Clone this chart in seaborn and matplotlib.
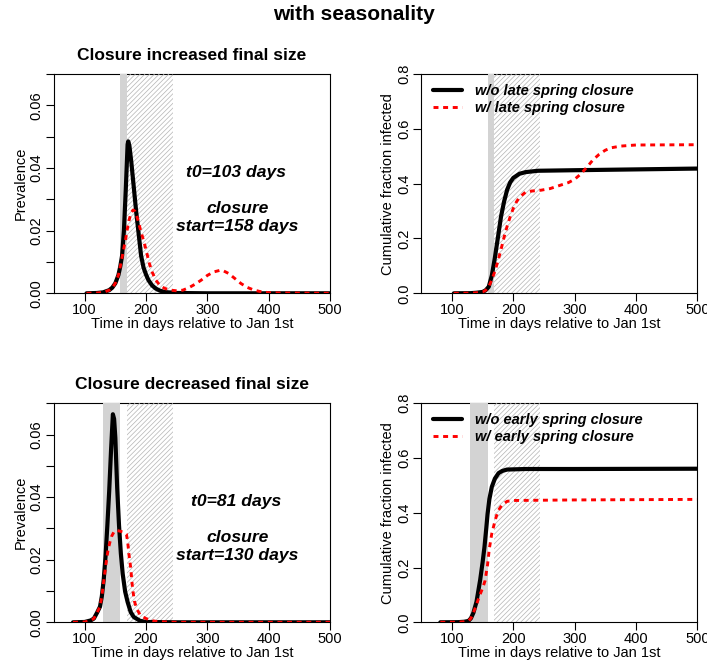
import matplotlib
matplotlib.use("Agg")
import matplotlib.pyplot as plt
import seaborn as sns
import numpy as np
import pandas as pd
from matplotlib.lines import Line2D
from matplotlib.ticker import MultipleLocator, FixedLocator

sns.set_style("white")
plt.rcParams['font.family'] = ['Liberation Sans', 'DejaVu Sans']
plt.rcParams['hatch.linewidth'] = 0.5
for k in ['text.color', 'axes.labelcolor', 'xtick.color', 'ytick.color', 'axes.edgecolor']:
    plt.rcParams[k] = 'black'

# ---------------- data ----------------
# Late spring closure scenario (t0 = 103, closure start = 158)
p1_days_black = [103, 120, 130, 140, 145, 150, 155, 158, 161, 164, 167, 170, 171, 173, 176, 180,
                 184, 188, 192, 196, 200, 204, 210, 216, 222, 230, 250, 300, 400, 500]
p1_black = [0, 0.0001, 0.0003, 0.001, 0.0018, 0.0032, 0.0058, 0.0085, 0.012, 0.020, 0.033, 0.0475,
            0.0485, 0.047, 0.042, 0.034, 0.026, 0.019, 0.012, 0.0082, 0.006, 0.0042, 0.0025, 0.0015,
            0.0009, 0.0004, 0.0001, 0, 0, 0]
p1_days_red = [103, 120, 130, 140, 145, 150, 155, 158, 161, 164, 167, 170, 173, 176, 179, 182, 186,
               190, 195, 200, 205, 210, 216, 222, 230, 240, 250, 260, 270, 280, 290, 300, 310, 320,
               325, 335, 345, 355, 365, 375, 385, 400, 420, 500]
p1_red = [0, 0.0001, 0.0003, 0.001, 0.0018, 0.0032, 0.0058, 0.0085, 0.0115, 0.0145, 0.0175, 0.021,
          0.0238, 0.0258, 0.0266, 0.0262, 0.024, 0.021, 0.0175, 0.014, 0.0098, 0.0068, 0.0042,
          0.0027, 0.0016, 0.001, 0.0008, 0.001, 0.0018, 0.0029, 0.0042, 0.0057, 0.0068, 0.0073,
          0.0073, 0.0063, 0.0047, 0.0031, 0.0019, 0.0011, 0.0006, 0.0002, 0.0001, 0]

c1_days_black = [103, 130, 140, 150, 155, 160, 165, 170, 175, 180, 185, 190, 195, 200, 210, 220,
                 240, 300, 400, 500]
c1_black = [0, 0.0005, 0.002, 0.005, 0.011, 0.024, 0.065, 0.13, 0.205, 0.28, 0.335, 0.378, 0.405,
            0.421, 0.436, 0.442, 0.447, 0.449, 0.452, 0.455]
c1_days_red = [103, 130, 140, 150, 155, 160, 165, 170, 175, 180, 185, 190, 195, 200, 205, 210, 220,
               230, 245, 260, 275, 290, 300, 310, 320, 330, 340, 350, 360, 375, 400, 500]
c1_red = [0, 0.0005, 0.002, 0.005, 0.011, 0.024, 0.05, 0.08, 0.118, 0.16, 0.205, 0.245, 0.28, 0.31,
          0.333, 0.35, 0.369, 0.373, 0.376, 0.382, 0.393, 0.404, 0.416, 0.435, 0.46, 0.487, 0.507,
          0.522, 0.531, 0.537, 0.541, 0.542]

# Early spring closure scenario (t0 = 81, closure start = 130)
p2_days_black = [81, 100, 110, 115, 120, 125, 128, 131, 134, 137, 140, 143, 146, 148, 150, 153, 156,
                 159, 162, 166, 170, 175, 180, 190, 200, 250, 500]
p2_black = [0, 0.0001, 0.0006, 0.0012, 0.003, 0.005, 0.0083, 0.0135, 0.021, 0.031, 0.042, 0.055,
            0.0665, 0.065, 0.059, 0.043, 0.031, 0.022, 0.0155, 0.0098, 0.0065, 0.0033, 0.0017,
            0.0005, 0.0001, 0, 0]
p2_days_red = [81, 100, 110, 115, 120, 125, 128, 131, 133, 135, 138, 141, 144, 148, 152, 156, 160,
               164, 168, 170, 172, 175, 178, 181, 185, 190, 195, 200, 210, 220, 250, 500]
p2_red = [0, 0.0001, 0.0006, 0.0012, 0.003, 0.005, 0.0083, 0.013, 0.016, 0.019, 0.023, 0.0255,
          0.0275, 0.029, 0.0294, 0.0292, 0.029, 0.0288, 0.0282, 0.026, 0.022, 0.0175, 0.011,
          0.0068, 0.0043, 0.0025, 0.0017, 0.0012, 0.0005, 0.0002, 0, 0]

c2_days_black = [81, 110, 120, 127, 131, 135, 140, 146, 150, 153, 156, 158, 161, 165, 170, 176, 182,
                 190, 220, 300, 500]
c2_black = [0, 0.0005, 0.002, 0.005, 0.015, 0.035, 0.075, 0.155, 0.22, 0.275, 0.345, 0.395, 0.45,
            0.495, 0.525, 0.545, 0.553, 0.558, 0.56, 0.56, 0.561]
c2_days_red = [81, 110, 120, 127, 131, 135, 140, 145, 150, 154, 158, 161, 165, 169, 172, 176, 182,
               190, 200, 300, 500]
c2_red = [0, 0.0005, 0.002, 0.005, 0.015, 0.035, 0.065, 0.097, 0.125, 0.152, 0.21, 0.27, 0.325,
          0.36, 0.385, 0.41, 0.43, 0.442, 0.445, 0.447, 0.449]

late_closure = (158, 169)
early_closure = (130, 158)
summer = (169, 244)

titles = ["Closure increased final size", "Closure decreased final size"]
t0_labels = ["t0=103 days", "t0=81 days"]
start_labels = ["start=158 days", "start=130 days"]
legend_labels = [["w/o late spring closure", "w/ late spring closure"],
                 ["w/o early spring closure", "w/ early spring closure"]]
x_ticks = [100, 200, 300, 400, 500]

# ---------------- figure ----------------
W, H = 707, 671
fig = plt.figure(figsize=(W / 100, H / 100), dpi=100)

def fax(x0, y0, x1, y1):
    return fig.add_axes([x0 / W, 1 - y1 / H, (x1 - x0) / W, (y1 - y0) / H])

axes = [[fax(54, 74, 330, 293.3), fax(421.3, 74, 697.3, 293.3)],
        [fax(54, 403.3, 330, 622.3), fax(421.3, 403.3, 697.3, 622.3)]]

black_kw = dict(color="black", linewidth=3.0, zorder=5)
red_kw = dict(color="red", linewidth=2.1, linestyle=(0, (1.7, 1.6)), zorder=6)
FS = 10.5

prev = [(p1_days_black, p1_black, p1_days_red, p1_red),
        (p2_days_black, p2_black, p2_days_red, p2_red)]
cums = [(c1_days_black, c1_black, c1_days_red, c1_red),
        (c2_days_black, c2_black, c2_days_red, c2_red)]
closures = [late_closure, early_closure]

def style_axes(ax, ylim, major, minor, fmt, ylabel):
    ax.set_xlim(50, 500)
    ax.set_ylim(*ylim)
    ax.xaxis.set_major_locator(FixedLocator(x_ticks))
    ax.yaxis.set_major_locator(MultipleLocator(major))
    if minor:
        ax.yaxis.set_minor_locator(MultipleLocator(minor))
    ax.yaxis.set_major_formatter(plt.FuncFormatter(lambda v, p: fmt.format(v)))
    for s in ax.spines.values():
        s.set_color("black")
        s.set_linewidth(0.8)
    ax.spines['bottom'].set_zorder(4)
    ax.tick_params(which="both", direction="out", length=5.8, width=0.8, color="black",
                   labelsize=FS, pad=1.0, bottom=True, left=True, top=False, right=False,
                   labelcolor="black")
    ax.tick_params(axis="y", which="both", pad=1.5)
    for lab in ax.get_yticklabels():
        lab.set_rotation(90)
        lab.set_va("center")
    ax.set_xlabel("Time in days relative to Jan 1st", fontsize=FS, labelpad=0.5, color="black")
    ax.set_ylabel(ylabel, fontsize=FS, labelpad=1.5, color="black")
    ax.grid(False)

for r in range(2):
    cs, ce = closures[r]
    for c in range(2):
        ax = axes[r][c]
        ax.axvspan(cs, ce, facecolor="#d3d3d3", edgecolor="none", linewidth=0, zorder=2.6)
        ax.axvspan(summer[0], summer[1], facecolor="none", edgecolor="#b4b4b4",
                   hatch="///////", linewidth=0, zorder=2.6)
        if c == 0:
            db, vb, dr, vr = prev[r]
        else:
            db, vb, dr, vr = cums[r]
        dfb = pd.DataFrame({"day": db, "value": vb})
        dfr = pd.DataFrame({"day": dr, "value": vr})
        sns.lineplot(data=dfb, x="day", y="value", ax=ax, **black_kw)
        sns.lineplot(data=dfr, x="day", y="value", ax=ax, **red_kw)
        if c == 0:
            style_axes(ax, (0, 0.07), 0.02, 0.01, "{:.2f}", "Prevalence")
            ax.set_title(titles[r], fontsize=12.5, fontweight="bold", pad=10, color="black")
            tk = dict(fontsize=12.6, fontweight="bold", fontstyle="italic",
                      ha="center", va="center", zorder=7, color="black")
            ax.text(347, 0.0385, t0_labels[r], **tk)
            ax.text(349, 0.0271, "closure", **tk)
            ax.text(348, 0.0212, start_labels[r], **tk)
        else:
            style_axes(ax, (0, 0.8), 0.2, None, "{:.1f}", "Cumulative fraction infected")
            handles = [Line2D([], [], **{k: v for k, v in black_kw.items() if k != "zorder"}),
                       Line2D([], [], **{k: v for k, v in red_kw.items() if k != "zorder"})]
            leg = ax.legend(handles, legend_labels[r], loc="upper left",
                            bbox_to_anchor=(0.043, 0.955), frameon=False, borderpad=0,
                            borderaxespad=0, handlelength=2.0, handletextpad=0.85,
                            labelspacing=0.22, labelcolor="black",
                            prop=dict(size=FS, weight="bold", style="italic"))
            leg.set_zorder(8)

fig.text(354 / W, 1 - 15 / H, "with seasonality", fontsize=15, fontweight="bold",
         ha="center", va="center", color="black")

fig.savefig("out.png", dpi=100)
